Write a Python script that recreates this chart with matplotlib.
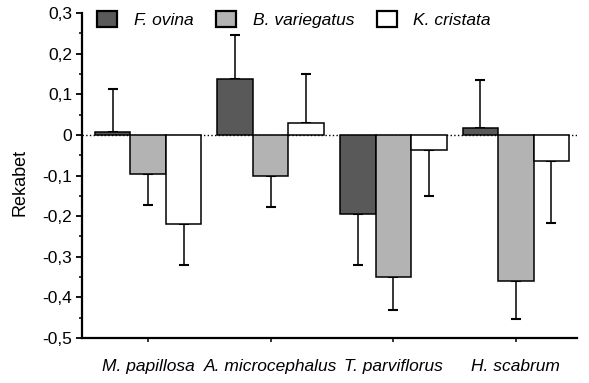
import numpy as np
import matplotlib.pyplot as plt
from matplotlib.patches import Patch
from matplotlib.ticker import MultipleLocator, FuncFormatter

plt.rcParams['font.family'] = ['Liberation Sans', 'DejaVu Sans']

# veriler
turler = ['M. papillosa', 'A. microcephalus', 'T. parviflorus', 'H. scabrum']
seriler = ['F. ovina', 'B. variegatus', 'K. cristata']
f_ovina = [0.008, 0.138, -0.195, 0.016]
f_ovina_err = [0.105, 0.107, 0.125, 0.119]
b_variegatus = [-0.097, -0.100, -0.351, -0.360]
b_variegatus_err = [0.076, 0.077, 0.081, 0.093]
k_cristata = [-0.220, 0.030, -0.038, -0.065]
k_cristata_err = [0.100, 0.121, 0.113, 0.152]

renkler = ['#595959', '#b3b3b3', '#ffffff']

fig = plt.figure(figsize=(5.89, 3.83), dpi=100)
ax = fig.add_axes([0.139, 0.1175, 0.841, 0.8485])

x = np.arange(len(turler))
w = 0.29
ax.axhline(0, color='black', ls=':', lw=1, zorder=1)

for i, (vals, errs) in enumerate([(f_ovina, f_ovina_err),
                                  (b_variegatus, b_variegatus_err),
                                  (k_cristata, k_cristata_err)]):
    xs = x + (i - 1) * w
    vals = np.array(vals)
    errs = np.array(errs)
    ax.bar(xs, vals, w, color=renkler[i], edgecolor='black', lw=1.1, zorder=2)
    alt = np.where(vals < 0, errs, 0)
    ust = np.where(vals >= 0, errs, 0)
    ax.errorbar(xs, vals, yerr=[alt, ust], fmt='none', ecolor='black',
                elinewidth=1.1, capsize=3.5, capthick=1.5, zorder=1.5)

ax.set_xlim(-0.54, 3.5)
ax.set_ylim(-0.5, 0.3)
ax.yaxis.set_major_locator(MultipleLocator(0.1))
ax.yaxis.set_minor_locator(MultipleLocator(0.05))
ax.yaxis.set_major_formatter(FuncFormatter(
    lambda v, p: '0' if abs(v) < 1e-9 else ('%.1f' % v).replace('.', ',')))
ax.set_xticks(x)
ax.set_xticklabels(turler, style='italic', fontsize=12.5)
ax.tick_params(axis='y', labelsize=12.5, length=4, width=1.3, direction='out', pad=3)
ax.tick_params(axis='y', which='minor', length=2.5, width=1.1)
ax.tick_params(axis='x', length=3, width=1.1, pad=12)
ax.set_ylabel('Rekabet', fontsize=13)
ax.yaxis.set_label_coords(-0.108, 0.48)

for s in ['top', 'right']:
    ax.spines[s].set_visible(False)
for s in ['left', 'bottom']:
    ax.spines[s].set_linewidth(1.6)

handles = [Patch(facecolor=renkler[i], edgecolor='black', lw=1.6) for i in range(3)]
leg = ax.legend(handles, seriler, ncol=3, frameon=False, loc='upper left',
                bbox_to_anchor=(0.0, 1.055), handlelength=1.15, handleheight=1.05,
                handletextpad=0.95, columnspacing=1.3, fontsize=12.5)
for t in leg.get_texts():
    t.set_style('italic')

plt.savefig('out.png', dpi=100)
